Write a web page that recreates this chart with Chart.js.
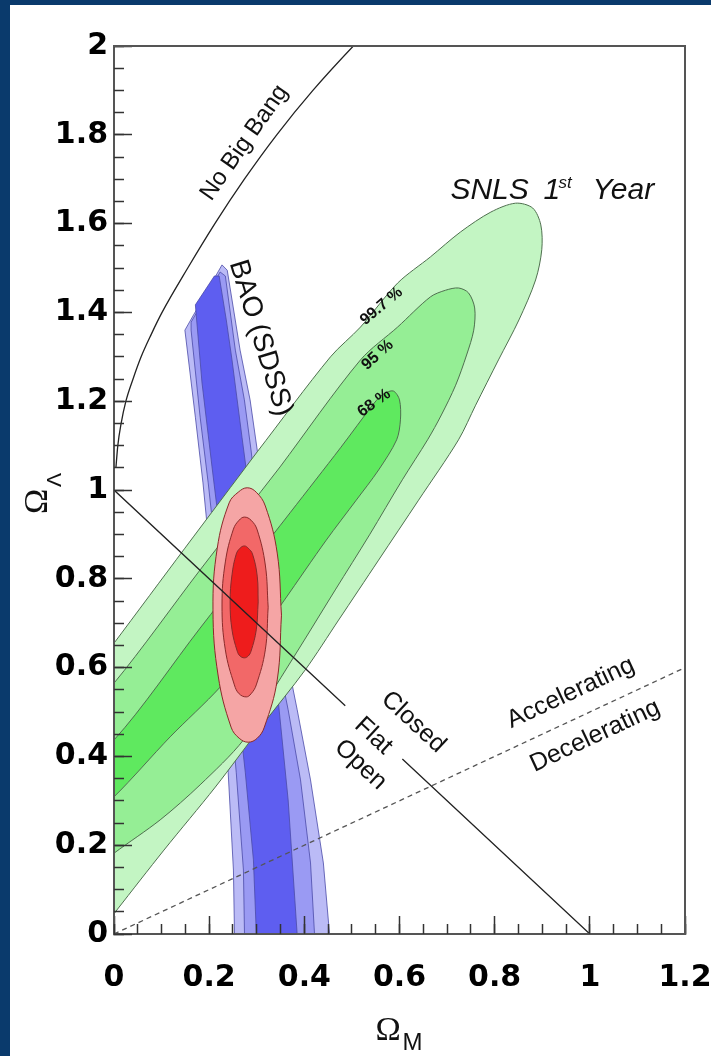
<!DOCTYPE html>
<html>
<head>
<meta charset="utf-8">
<script src="https://cdn.jsdelivr.net/npm/chart.js@4.4.1/dist/chart.umd.min.js"></script>
<style>
  html, body { margin: 0; padding: 0; background: #0a3a6c; }
  #panel { position: absolute; left: 10px; top: 5px; width: 701px; height: 1051px; background: #fff; }
  canvas { display: block; }
</style>
</head>
<body>
<div id="panel"><canvas id="omegaChart" width="701" height="1051"></canvas></div>
<script>
// Omega_M / Omega_Lambda plane: SNLS, BAO and combined contours

const omegaMTicks = [0, 0.2, 0.4, 0.6, 0.8, 1, 1.2];
const omegaLTicks = [0, 0.2, 0.4, 0.6, 0.8, 1, 1.2, 1.4, 1.6, 1.8, 2];

// boundary lines
const noBigBang = [
    { x: 0.004, y: 1.05 }, { x: 0.008, y: 1.10 }, { x: 0.015, y: 1.15 },
    { x: 0.025, y: 1.20 }, { x: 0.040, y: 1.25 }, { x: 0.057, y: 1.30 },
    { x: 0.078, y: 1.35 }, { x: 0.101, y: 1.40 }, { x: 0.155, y: 1.50 },
    { x: 0.212, y: 1.60 }, { x: 0.274, y: 1.70 }, { x: 0.342, y: 1.80 },
    { x: 0.418, y: 1.90 }, { x: 0.503, y: 2.00 }, { x: 0.540, y: 2.04 },
];
const flatLine = [
    { x: 0, y: 1 }, { x: 0.486, y: 0.514 }, { x: 0.55, y: null },
    { x: 0.606, y: 0.394 }, { x: 1, y: 0 },
];
const accelLine = [{ x: 0, y: 0 }, { x: 1.2, y: 0.6 }];

// BAO (SDSS) band
const baoOuter = [
    { x: 0.227, y: 1.507 }, { x: 0.238, y: 1.495 }, { x: 0.265, y: 1.315 },
    { x: 0.286, y: 1.203 }, { x: 0.301, y: 1.090 }, { x: 0.320, y: 0.932 },
    { x: 0.341, y: 0.775 }, { x: 0.364, y: 0.617 }, { x: 0.385, y: 0.505 },
    { x: 0.413, y: 0.347 }, { x: 0.440, y: 0.160 }, { x: 0.457, y: -0.05 },
    { x: 0.254, y: -0.05 }, { x: 0.251, y: 0.144 }, { x: 0.240, y: 0.363 },
    { x: 0.219, y: 0.640 }, { x: 0.196, y: 0.917 }, { x: 0.187, y: 1.016 },
    { x: 0.171, y: 1.164 }, { x: 0.149, y: 1.360 }, { x: 0.227, y: 1.507 },
];
const baoMid = [
    { x: 0.223, y: 1.491 }, { x: 0.234, y: 1.482 }, { x: 0.255, y: 1.315 },
    { x: 0.274, y: 1.203 }, { x: 0.288, y: 1.090 }, { x: 0.305, y: 0.932 },
    { x: 0.324, y: 0.775 }, { x: 0.345, y: 0.617 }, { x: 0.366, y: 0.505 },
    { x: 0.392, y: 0.347 }, { x: 0.413, y: 0.160 }, { x: 0.424, y: -0.05 },
    { x: 0.275, y: -0.05 }, { x: 0.272, y: 0.144 }, { x: 0.257, y: 0.363 },
    { x: 0.234, y: 0.640 }, { x: 0.208, y: 0.917 }, { x: 0.198, y: 1.016 },
    { x: 0.181, y: 1.164 }, { x: 0.162, y: 1.360 }, { x: 0.162, y: 1.378 },
    { x: 0.223, y: 1.491 },
];
const baoCore = [
    { x: 0.211, y: 1.482 }, { x: 0.221, y: 1.482 }, { x: 0.236, y: 1.383 },
    { x: 0.248, y: 1.293 }, { x: 0.269, y: 1.119 }, { x: 0.280, y: 1.029 },
    { x: 0.297, y: 0.887 }, { x: 0.318, y: 0.707 }, { x: 0.345, y: 0.527 },
    { x: 0.366, y: 0.302 }, { x: 0.388, y: -0.05 }, { x: 0.301, y: -0.05 },
    { x: 0.293, y: 0.167 }, { x: 0.276, y: 0.363 }, { x: 0.248, y: 0.640 },
    { x: 0.217, y: 0.955 }, { x: 0.206, y: 1.052 }, { x: 0.185, y: 1.241 },
    { x: 0.171, y: 1.417 }, { x: 0.211, y: 1.482 },
];

// SNLS 1st year contours
const snls997 = [
    { x: 0.301, y: 1.086 }, { x: 0.455, y: 1.300 }, { x: 0.518, y: 1.367 },
    { x: 0.596, y: 1.466 }, { x: 0.665, y: 1.525 }, { x: 0.728, y: 1.581 },
    { x: 0.792, y: 1.626 }, { x: 0.844, y: 1.646 }, { x: 0.880, y: 1.635 },
    { x: 0.897, y: 1.597 }, { x: 0.899, y: 1.541 }, { x: 0.886, y: 1.473 },
    { x: 0.851, y: 1.383 }, { x: 0.808, y: 1.293 }, { x: 0.760, y: 1.191 },
    { x: 0.724, y: 1.113 }, { x: 0.640, y: 0.977 }, { x: 0.556, y: 0.842 },
    { x: 0.472, y: 0.707 }, { x: 0.402, y: 0.595 }, { x: 0.312, y: 0.471 },
    { x: 0.213, y: 0.331 }, { x: 0.105, y: 0.189 }, { x: 0.006, y: 0.054 },
    { x: -0.051, y: -0.025 }, { x: -0.156, y: -0.059 }, { x: -0.198, y: 0.077 },
    { x: -0.156, y: 0.347 }, { x: -0.114, y: 0.493 }, { x: 0.000, y: 0.655 },
    { x: 0.149, y: 0.869 }, { x: 0.301, y: 1.086 },
];
const snls95 = [
    { x: 0.349, y: 1.052 }, { x: 0.518, y: 1.293 }, { x: 0.596, y: 1.367 },
    { x: 0.665, y: 1.435 }, { x: 0.697, y: 1.450 }, { x: 0.724, y: 1.455 },
    { x: 0.745, y: 1.444 }, { x: 0.758, y: 1.410 }, { x: 0.756, y: 1.360 },
    { x: 0.741, y: 1.304 }, { x: 0.718, y: 1.236 }, { x: 0.688, y: 1.169 },
    { x: 0.659, y: 1.113 }, { x: 0.606, y: 1.023 }, { x: 0.537, y: 0.899 },
    { x: 0.465, y: 0.775 }, { x: 0.400, y: 0.662 }, { x: 0.335, y: 0.550 },
    { x: 0.272, y: 0.437 }, { x: 0.181, y: 0.336 }, { x: 0.097, y: 0.257 },
    { x: 0.000, y: 0.182 }, { x: -0.072, y: 0.122 }, { x: -0.135, y: 0.167 },
    { x: -0.114, y: 0.392 }, { x: -0.072, y: 0.493 }, { x: 0.000, y: 0.565 },
    { x: 0.181, y: 0.820 }, { x: 0.349, y: 1.052 },
];
const snls68 = [
    { x: 0.371, y: 0.950 }, { x: 0.476, y: 1.095 }, { x: 0.547, y: 1.196 },
    { x: 0.566, y: 1.216 }, { x: 0.587, y: 1.223 }, { x: 0.600, y: 1.203 },
    { x: 0.602, y: 1.158 }, { x: 0.594, y: 1.113 }, { x: 0.556, y: 1.045 },
    { x: 0.509, y: 0.977 }, { x: 0.446, y: 0.887 }, { x: 0.358, y: 0.752 },
    { x: 0.284, y: 0.640 }, { x: 0.223, y: 0.556 }, { x: 0.118, y: 0.444 },
    { x: 0.000, y: 0.309 }, { x: -0.051, y: 0.268 }, { x: -0.093, y: 0.324 },
    { x: -0.072, y: 0.392 }, { x: 0.000, y: 0.437 }, { x: 0.181, y: 0.689 },
    { x: 0.371, y: 0.950 },
];

// combined SNLS + BAO contours
const combined997 = [
    { x: 0.352, y: 0.718 }, { x: 0.343, y: 0.572 }, { x: 0.316, y: 0.466 },
    { x: 0.301, y: 0.441 }, { x: 0.282, y: 0.432 }, { x: 0.263, y: 0.441 },
    { x: 0.246, y: 0.466 }, { x: 0.219, y: 0.581 }, { x: 0.208, y: 0.730 },
    { x: 0.217, y: 0.869 }, { x: 0.242, y: 0.971 }, { x: 0.261, y: 0.995 },
    { x: 0.280, y: 1.005 }, { x: 0.299, y: 0.995 }, { x: 0.318, y: 0.964 },
    { x: 0.343, y: 0.858 }, { x: 0.352, y: 0.718 },
];
const combined95 = [
    { x: 0.324, y: 0.736 }, { x: 0.318, y: 0.640 }, { x: 0.299, y: 0.561 },
    { x: 0.288, y: 0.541 }, { x: 0.278, y: 0.534 }, { x: 0.263, y: 0.541 },
    { x: 0.253, y: 0.561 }, { x: 0.234, y: 0.640 }, { x: 0.227, y: 0.741 },
    { x: 0.234, y: 0.838 }, { x: 0.251, y: 0.912 }, { x: 0.263, y: 0.932 },
    { x: 0.274, y: 0.939 }, { x: 0.288, y: 0.932 }, { x: 0.301, y: 0.910 },
    { x: 0.318, y: 0.831 }, { x: 0.324, y: 0.736 },
];
const combined68 = [
    { x: 0.303, y: 0.748 }, { x: 0.299, y: 0.685 }, { x: 0.288, y: 0.637 },
    { x: 0.282, y: 0.626 }, { x: 0.274, y: 0.622 }, { x: 0.265, y: 0.626 },
    { x: 0.259, y: 0.637 }, { x: 0.248, y: 0.685 }, { x: 0.244, y: 0.748 },
    { x: 0.248, y: 0.809 }, { x: 0.257, y: 0.856 }, { x: 0.265, y: 0.869 },
    { x: 0.274, y: 0.874 }, { x: 0.282, y: 0.869 }, { x: 0.291, y: 0.856 },
    { x: 0.301, y: 0.806 }, { x: 0.303, y: 0.748 },
];

// text on the plot (data coordinates)
const sans = '"Liberation Sans", Arial, sans-serif';
const annotations = [
    { text: "No Big Bang", x: 0.274, y: 1.782, angle: -55, font: "24px " + sans },
    { text: "BAO (SDSS)", x: 0.308, y: 1.342, angle: 73, font: "28px " + sans },
    { text: "99.7 %", x: 0.562, y: 1.414, angle: -40, font: "bold 16px " + sans },
    { text: "95 %", x: 0.554, y: 1.304, angle: -42, font: "bold 16px " + sans },
    { text: "68 %", x: 0.547, y: 1.196, angle: -36, font: "bold 16px " + sans },
    { text: "Closed", x: 0.629, y: 0.477, angle: 43, font: "25px " + sans },
    { text: "Flat", x: 0.545, y: 0.446, angle: 43, font: "25px " + sans },
    { text: "Open", x: 0.518, y: 0.381, angle: 43, font: "25px " + sans },
    { text: "Accelerating", x: 0.960, y: 0.543, angle: -25, font: "25px " + sans },
    { text: "Decelerating", x: 1.011, y: 0.446, angle: -25, font: "25px " + sans },
];

function region(data, fill, line, width, tension) {
    return {
        data: data,
        showLine: true,
        fill: "shape",
        backgroundColor: fill,
        borderColor: line,
        borderWidth: width,
        pointRadius: 0,
        tension: tension,
        capBezierPoints: false,
    };
}

const labelPlugin = {
    id: "plotText",
    afterDraw(chart) {
        const ctx = chart.ctx;
        const xs = chart.scales.x;
        const ys = chart.scales.y;
        const area = chart.chartArea;
        ctx.save();
        ctx.fillStyle = "#111";
        annotations.forEach((a) => {
            ctx.save();
            ctx.translate(xs.getPixelForValue(a.x), ys.getPixelForValue(a.y));
            ctx.rotate((a.angle * Math.PI) / 180);
            ctx.font = a.font;
            ctx.textAlign = "center";
            ctx.textBaseline = "middle";
            ctx.fillText(a.text, 0, 0);
            ctx.restore();
        });

        // SNLS 1st Year
        const sx = xs.getPixelForValue(0.707);
        const sy = ys.getPixelForValue(1.655);
        ctx.textAlign = "left";
        ctx.textBaseline = "alphabetic";
        ctx.font = "italic 30px " + sans;
        ctx.fillText("SNLS", sx, sy);
        ctx.fillText("1", sx + 93, sy);
        ctx.fillText("Year", sx + 142, sy);
        ctx.font = "italic 17px " + sans;
        ctx.fillText("st", sx + 108, sy - 11);

        // axis titles
        const cx = (area.left + area.right) / 2;
        ctx.font = '34px "Liberation Serif", "Times New Roman", serif';
        ctx.fillText("\u03A9", cx - 24, 1035);
        ctx.font = "24px " + sans;
        ctx.fillText("M", cx + 3, 1045);

        const cy = (area.top + area.bottom) / 2 + 4;
        ctx.save();
        ctx.translate(37, cy);
        ctx.rotate(-Math.PI / 2);
        ctx.font = '34px "Liberation Serif", "Times New Roman", serif';
        ctx.fillText("\u03A9", -20, 0);
        ctx.font = "21px " + sans;
        ctx.fillText("\u039B", 7, 14);
        ctx.restore();
        ctx.restore();
    },
};

const tickFont = { family: '"DejaVu Sans", sans-serif', size: 30, weight: "bold" };
const tickLabel = (v) => String(Math.round(v * 100) / 100);
const tickGrid = (len) => ({
    drawOnChartArea: false,
    tickLength: len,
    tickColor: "#333",
    tickWidth: 1.5,
    z: 1,
});

const dataOmega = {
    datasets: [
        { data: noBigBang, showLine: true, borderColor: "#222", borderWidth: 1.3, pointRadius: 0, cubicInterpolationMode: "monotone" },
        { data: flatLine, showLine: true, borderColor: "#222", borderWidth: 1.3, pointRadius: 0, spanGaps: false },
        { data: accelLine, showLine: true, borderColor: "#555", borderWidth: 1.3, borderDash: [5, 4], pointRadius: 0 },
        region(combined68, "#ee1c1c", "#8a2a2a", 1, 0.4),
        region(combined95, "#f26868", "#8a2a2a", 1, 0.4),
        region(combined997, "#f5a5a5", "#8a2a2a", 1, 0.4),
        region(snls68, "#5fe95f", "#4f6f4f", 1, 0.3),
        region(snls95, "#95ee95", "#4f6f4f", 1, 0.3),
        region(snls997, "#c3f5c3", "#4f6f4f", 1, 0.3),
        region(baoCore, "#5e5ef0", "#4a4aa8", 0.8, 0),
        region(baoMid, "#9a9af3", "#4a4aa8", 0.8, 0),
        region(baoOuter, "#bbbbf6", "#4a4aa8", 0.8, 0),
    ],
};

const configOmega = {
    type: "scatter",
    data: dataOmega,
    options: {
        responsive: false,
        animation: false,
        devicePixelRatio: 1,
        events: [],
        layout: { padding: { left: 0, top: 41, right: 26, bottom: 0 } },
        plugins: { legend: { display: false }, tooltip: { enabled: false } },
        scales: {
            x: {
                type: "linear", position: "bottom", min: 0, max: 1.2,
                afterBuildTicks: (s) => { s.ticks = omegaMTicks.map((v) => ({ value: v })); },
                afterFit: (s) => { s.height = 122; s.paddingLeft = 0; s.paddingRight = 0; },
                ticks: { font: tickFont, color: "#000", padding: 44, autoSkip: false, minRotation: 0, maxRotation: 0, callback: tickLabel },
                grid: tickGrid(-18),
                border: { color: "#555", width: 2, z: 1 },
            },
            y: {
                type: "linear", position: "left", min: 0, max: 2,
                afterBuildTicks: (s) => { s.ticks = omegaLTicks.map((v) => ({ value: v })); },
                afterFit: (s) => { s.width = 104; s.paddingTop = 0; s.paddingBottom = 0; },
                ticks: { font: tickFont, color: "#000", padding: 24, autoSkip: false, callback: tickLabel },
                grid: tickGrid(-18),
                border: { color: "#555", width: 2, z: 1 },
            },
            xMinor: {
                axis: "x", type: "linear", position: { y: 0 }, min: 0, max: 1.2,
                ticks: { display: false, stepSize: 0.05 },
                grid: tickGrid(-10),
                border: { display: false },
            },
            yMinor: {
                axis: "y", type: "linear", position: { x: 0 }, min: 0, max: 2,
                ticks: { display: false, stepSize: 0.05 },
                grid: tickGrid(-10),
                border: { display: false },
            },
            xTop: {
                axis: "x", type: "linear", position: "top", min: 0, max: 1.2,
                ticks: { display: false },
                grid: { display: false, drawTicks: false },
                border: { color: "#555", width: 2, z: 1 },
            },
            yRight: {
                axis: "y", type: "linear", position: "right", min: 0, max: 2,
                ticks: { display: false },
                grid: { display: false, drawTicks: false },
                border: { color: "#555", width: 2, z: 1 },
            },
        },
    },
    plugins: [labelPlugin],
};

var omegaChart = new Chart(document.getElementById("omegaChart"), configOmega);
</script>
</body>
</html>
